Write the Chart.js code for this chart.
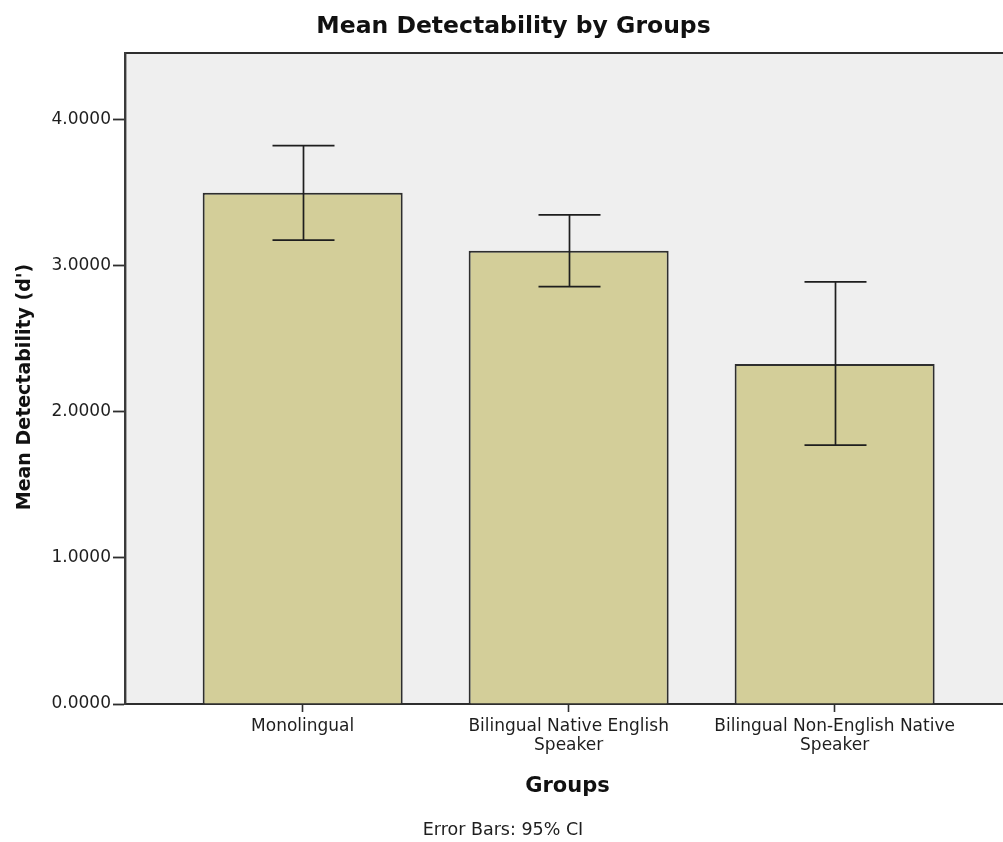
<!DOCTYPE html>
<html>
<head>
<meta charset="utf-8">
<title>Mean Detectability by Groups</title>
<script src="https://cdn.jsdelivr.net/npm/chart.js@4/dist/chart.umd.min.js"></script>
<style>
  html, body { margin: 0; padding: 0; background: #ffffff; }
  #wrap { position: relative; width: 1003px; height: 842px; }
</style>
</head>
<body>
<div id="wrap"><canvas id="chart"></canvas></div>
<script>
// Group names and their tick-label line breaks
const groups = ['Monolingual', 'Bilingual Native English Speaker', 'Bilingual Non-English Native Speaker'];
const groupTickLines = [['Monolingual'], ['Bilingual Native English', 'Speaker'], ['Bilingual Non-English Native', 'Speaker']];

// Mean d' per group with 95% confidence interval bounds
const meanD = [3.497, 3.100, 2.326];
const ciLower = [3.172, 2.854, 1.770];
const ciUpper = [3.818, 3.345, 2.887];

// Value-axis ticks
const yTickValues = [0, 1, 2, 3, 4];
const yMax = 4.452;

const FONT = '"DejaVu Sans", Verdana, sans-serif';
const INK = '#1e1e1e';

// Plot background and top frame line
const plotFrame = {
  id: 'plotFrame',
  beforeDraw(chart) {
    const { ctx, chartArea: a } = chart;
    ctx.save();
    ctx.fillStyle = '#efefef';
    ctx.fillRect(a.left, a.top, a.right - a.left, a.bottom - a.top);
    ctx.strokeStyle = '#2e2e2e';
    ctx.lineWidth = 2;
    ctx.beginPath();
    ctx.moveTo(a.left, a.top);
    ctx.lineTo(a.right, a.top);
    ctx.stroke();
    ctx.restore();
  }
};

// 95% CI whiskers drawn through the chart's own scales
const ciBars = {
  id: 'ciBars',
  afterDatasetsDraw(chart) {
    const { ctx, scales: { x, y } } = chart;
    const cap = 31;
    ctx.save();
    ctx.strokeStyle = INK;
    ctx.lineWidth = 1.7;
    groups.forEach((g, i) => {
      const px = Math.round(x.getPixelForValue(i)) + 0.5;
      const hi = y.getPixelForValue(ciUpper[i]);
      const lo = y.getPixelForValue(ciLower[i]);
      ctx.beginPath();
      ctx.moveTo(px, hi); ctx.lineTo(px, lo);
      ctx.moveTo(px - cap, hi); ctx.lineTo(px + cap, hi);
      ctx.moveTo(px - cap, lo); ctx.lineTo(px + cap, lo);
      ctx.stroke();
    });
    ctx.restore();
  }
};

// Chart title, axis titles and footnote
const captions = {
  id: 'captions',
  afterDraw(chart) {
    const { ctx } = chart;
    ctx.save();
    ctx.fillStyle = '#111111';
    ctx.textAlign = 'center';
    ctx.textBaseline = 'alphabetic';

    ctx.font = 'bold 23.5px ' + FONT;
    ctx.fillText('Mean Detectability by Groups', 513.5, 33);

    ctx.font = 'bold 21px ' + FONT;
    ctx.fillText('Groups', 567.5, 792);

    ctx.fillStyle = INK;
    ctx.font = '17.5px ' + FONT;
    ctx.fillText('Error Bars: 95% CI', 503, 835);

    ctx.fillStyle = '#111111';
    ctx.font = 'bold 19px ' + FONT;
    ctx.translate(25, 387);
    ctx.rotate(-Math.PI / 2);
    ctx.textBaseline = 'middle';
    ctx.fillText("Mean Detectability (d')", 0, 0);
    ctx.restore();
  }
};

new Chart(document.getElementById('chart'), {
  type: 'bar',
  data: {
    datasets: [{
      label: "Mean Detectability (d')",
      data: meanD.map((v, i) => ({ x: i, y: v })),
      backgroundColor: '#d3ce99',
      borderColor: '#2e2e2e',
      borderWidth: 2,
      borderSkipped: 'start',
      categoryPercentage: 1,
      barPercentage: 0.752
    }]
  },
  options: {
    responsive: true,
    maintainAspectRatio: false,
    animation: false,
    devicePixelRatio: 1,
    layout: { padding: { top: 53, right: 0, bottom: 0, left: 0 } },
    plugins: {
      legend: { display: false },
      tooltip: { enabled: false },
      title: { display: false }
    },
    scales: {
      x: {
        type: 'linear',
        offset: false,
        min: -0.668,
        max: 2.633,
        afterFit(scale) { scale.height = 138; },
        afterBuildTicks(scale) { scale.ticks = groups.map((g, i) => ({ value: i })); },
        grid: {
          display: true,
          offset: false,
          drawOnChartArea: false,
          drawTicks: true,
          tickLength: 8,
          tickColor: '#2e2e2e',
          tickWidth: 1.6
        },
        border: { display: true, color: '#2e2e2e', width: 2 },
        ticks: {
          autoSkip: false,
          maxRotation: 0,
          minRotation: 0,
          padding: 5,
          color: INK,
          font: { family: FONT, size: 17, lineHeight: 1.12 },
          callback: (value) => groupTickLines[value]
        }
      },
      y: {
        min: 0,
        max: yMax,
        afterFit(scale) { scale.width = 125; },
        afterBuildTicks(scale) { scale.ticks = yTickValues.map(v => ({ value: v })); },
        grid: {
          display: true,
          drawOnChartArea: false,
          drawTicks: true,
          tickLength: 12,
          tickColor: '#2e2e2e',
          tickWidth: 1.8
        },
        border: { display: true, color: '#3a3a3a', width: 2.4 },
        ticks: {
          padding: 2,
          color: INK,
          font: { family: FONT, size: 17 },
          callback: (value) => Number(value).toFixed(4)
        }
      }
    }
  },
  plugins: [plotFrame, ciBars, captions]
});
</script>
</body>
</html>
